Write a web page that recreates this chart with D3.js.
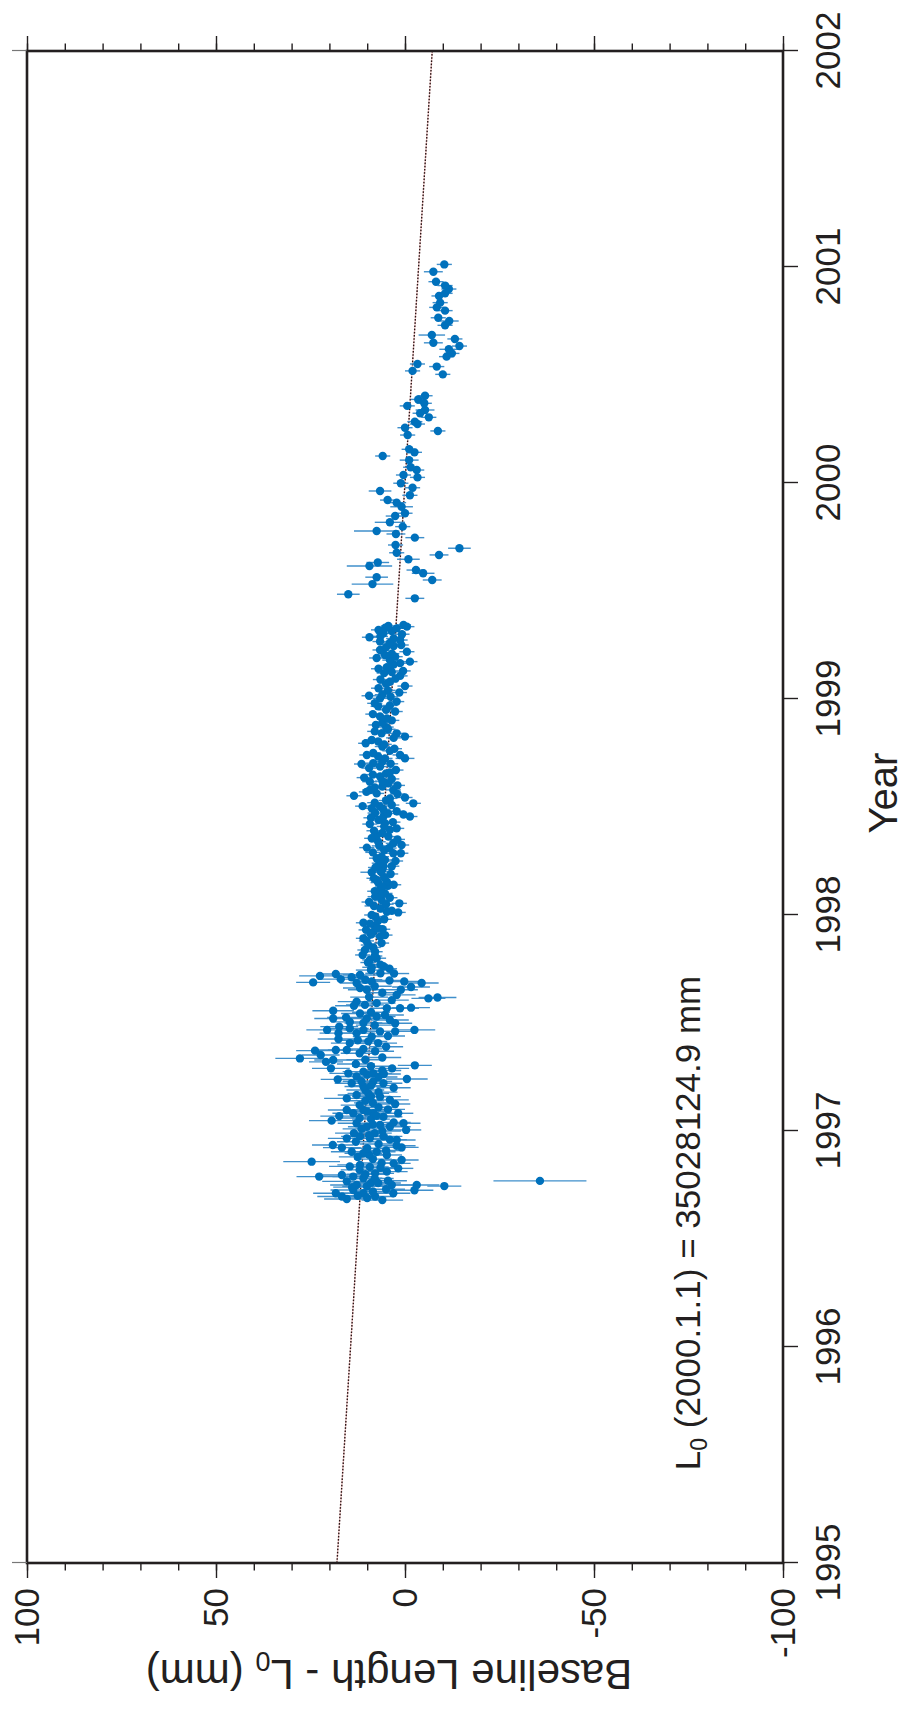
<!DOCTYPE html>
<html>
<head>
<meta charset="utf-8">
<script src="https://cdn.jsdelivr.net/npm/d3@7"></script>
<style>
  html, body { margin: 0; padding: 0; background: #ffffff; }
  svg { display: block; }
  text { font-family: "Liberation Sans", Arial, Helvetica, sans-serif; fill: #231f20; }
</style>
</head>
<body>
<script>
// Baseline length change (mm) relative to L0, per session: [epoch (yr), offset (mm), 1-sigma (mm)]
const noisyEra = [
  [1996.680, 6.0, 5.5], [1996.685, 15.4, 6.0], [1996.697, 16.7, 6.5], [1996.697, 7.9, 5.0],
  [1996.712, 18.3, 6.0], [1996.712, 11.0, 5.5], [1996.712, 3.1, 4.5], [1996.727, 13.7, 6.0],
  [1996.726, -2.5, 5.0], [1996.745, -10.4, 4.5], [1996.750, -3.1, 6.0], [1996.744, 10.1, 6.5],
  [1996.750, 12.8, 7.0], [1996.750, 3.5, 5.5], [1996.759, 7.1, 6.0], [1996.767, 15.4, 6.5],
  [1996.769, -35.7, 12.3], [1996.781, 11.0, 5.0], [1996.789, 13.7, 5.5], [1996.789, 22.7, 6.0],
  [1996.796, 16.7, 5.0], [1996.804, 7.9, 5.0], [1996.812, 4.8, 5.5], [1996.827, 1.8, 4.0],
  [1996.833, 9.3, 5.0], [1996.836, 14.6, 5.5], [1996.843, 11.9, 6.0], [1996.852, 6.2, 5.0],
  [1996.858, 24.7, 7.5], [1996.866, 0.9, 4.5], [1996.889, 4.8, 4.0], [1996.897, 11.0, 5.0],
  [1996.904, 14.1, 5.5], [1996.904, 7.5, 5.0], [1996.923, 16.7, 5.0], [1996.924, 0.9, 4.5],
  [1996.932, 2.2, 5.0], [1996.935, 19.1, 5.5], [1996.958, 2.2, 5.0], [1996.966, 15.4, 5.0],
  [1996.966, 9.3, 5.5], [1996.975, 11.9, 5.0], [1996.975, 5.7, 5.0], [1996.990, 8.0, 4.5],
  [1997.005, -0.3, 4.0], [1997.020, 10.1, 5.0], [1997.020, 4.0, 5.5], [1997.028, 6.6, 6.0],
  [1997.036, 12.8, 5.0], [1997.036, 0.4, 4.5], [1997.048, 19.4, 6.0], [1997.055, 9.0, 5.0],
  [1997.066, 5.7, 5.0], [1997.069, 17.4, 5.0], [1997.082, 13.7, 5.5], [1997.082, 8.4, 5.0],
  [1997.082, 1.8, 4.0], [1997.097, 15.4, 5.0], [1997.097, 11.0, 5.5], [1997.110, 7.0, 5.0],
  [1997.125, 2.6, 4.0], [1997.144, 4.0, 5.0], [1997.151, 15.4, 6.0], [1997.159, 6.6, 5.5],
  [1997.167, 12.8, 5.0], [1997.174, 9.7, 5.5], [1997.190, 10.5, 5.0], [1997.206, 11.0, 5.0],
  [1997.221, 14.1, 4.5], [1997.221, 5.7, 5.0], [1997.229, 8.4, 5.0], [1997.239, 17.8, 4.5],
  [1997.241, -0.5, 5.5], [1997.252, 12.8, 5.0], [1997.264, 5.6, 4.5], [1997.267, 15.0, 5.0],
  [1997.267, 8.4, 5.0], [1997.275, 11.0, 5.5], [1997.290, 19.6, 5.0], [1997.290, 3.4, 4.5],
  [1997.304, -2.6, 4.5], [1997.320, 20.9, 4.5], [1997.329, 19.0, 5.0], [1997.336, 27.8, 6.5],
  [1997.352, 22.3, 5.0], [1997.360, 12.0, 5.0], [1997.369, 7.9, 5.0], [1997.372, 23.8, 5.0],
  [1997.375, 18.3, 4.5], [1997.375, 15.4, 5.0], [1997.407, 14.6, 5.0], [1997.407, 7.1, 5.0],
  [1997.415, 9.7, 5.0], [1997.426, 17.6, 5.5], [1997.437, 8.8, 5.0], [1997.453, 17.6, 5.0],
  [1997.453, 12.8, 5.0], [1997.461, 6.6, 5.0], [1997.461, 2.6, 4.5], [1997.468, 20.6, 5.5],
  [1997.468, 11.0, 5.0], [1997.468, -2.5, 5.5], [1997.475, 14.6, 5.0], [1997.483, 17.4, 5.0],
  [1997.499, 2.6, 4.5], [1997.505, 14.6, 5.0], [1997.514, 4.0, 5.0], [1997.521, 19.0, 5.0],
  [1997.521, 10.1, 5.0], [1997.526, 15.6, 5.0], [1997.537, 5.3, 5.0], [1997.544, 11.9, 5.0],
  [1997.557, 19.0, 5.5], [1997.568, 4.8, 4.5], [1997.568, 1.3, 5.0], [1997.571, -1.6, 5.0],
  [1997.584, 10.6, 5.0], [1997.592, 7.5, 5.0], [1997.599, 12.8, 5.0], [1997.606, 3.5, 4.5],
  [1997.614, -6.2, 4.5], [1997.618, -8.6, 5.0], [1997.630, 2.2, 5.0], [1997.654, 10.1, 5.0],
  [1997.654, 1.1, 4.5], [1997.662, 11.9, 4.5], [1997.667, -1.6, 5.0], [1997.685, 12.8, 4.5],
  [1997.685, -4.4, 4.5], [1997.688, 24.3, 4.5], [1997.692, 8.8, 4.5], [1997.692, 0.2, 5.0],
  [1997.697, 4.1, 4.5], [1997.703, 17.0, 5.0], [1997.712, 14.1, 4.5], [1997.718, 22.5, 5.5],
  [1997.722, 11.9, 4.5], [1997.727, 18.3, 4.5], [1997.729, 2.9, 4.0], [1997.745, 9.0, 4.0],
  [1996.690, 10.0, 5.0], [1996.700, 12.5, 5.0], [1996.720, 8.5, 5.5], [1996.730, 5.0, 5.0],
  [1996.740, 14.0, 5.0], [1996.760, 9.0, 5.5], [1996.770, 4.5, 5.0], [1996.780, 8.0, 5.0],
  [1996.800, 10.5, 5.0], [1996.820, 12.0, 5.0], [1996.830, 6.5, 5.0], [1996.850, 3.0, 4.5],
  [1996.870, 8.5, 5.0], [1996.880, 12.5, 5.0], [1996.890, 9.5, 5.0], [1996.910, 5.0, 4.5],
  [1996.920, 10.0, 5.0], [1996.940, 7.0, 5.0], [1996.950, 13.0, 5.0], [1996.960, 4.0, 4.5],
  [1996.980, 9.5, 5.0], [1996.990, 13.5, 5.0], [1997.000, 6.0, 5.0], [1997.010, 11.5, 5.0],
  [1997.030, 8.5, 5.0], [1997.040, 3.0, 4.5], [1997.060, 12.0, 5.0], [1997.070, 7.5, 5.0],
  [1997.090, 10.0, 5.0], [1997.100, 4.5, 4.5], [1997.120, 12.0, 5.0], [1997.130, 8.5, 5.0],
  [1997.140, 10.5, 5.0], [1997.160, 9.0, 5.0], [1997.180, 7.0, 5.0], [1997.200, 3.0, 4.5],
  [1997.210, 9.0, 5.0], [1997.230, 11.5, 5.0], [1997.250, 7.0, 5.0], [1997.260, 10.0, 5.0],
  [1997.280, 6.0, 5.0], [1997.300, 9.0, 5.0], [1997.310, 13.0, 5.0], [1997.330, 10.5, 5.0],
  [1997.340, 6.0, 5.0], [1997.380, 11.0, 5.0], [1997.390, 5.0, 4.5], [1997.420, 12.5, 5.0],
  [1997.440, 4.5, 4.5], [1997.490, 8.0, 5.0], [1997.500, 11.0, 5.0], [1997.530, 7.5, 5.0],
  [1997.550, 9.0, 5.0], [1997.580, 13.5, 5.0], [1997.620, 9.5, 5.0], [1997.640, 6.0, 4.5],
  [1997.670, 8.0, 4.5], [1997.700, 10.5, 4.5], [1997.730, 6.5, 4.0]
];

const denseEra = [
  [1997.751, 4.1, 2.0], [1997.758, 8.8, 2.5], [1997.763, 5.7, 2.0], [1997.792, 9.3, 2.0],
  [1997.800, 7.5, 2.5], [1997.815, 11.2, 2.0], [1997.830, 7.9, 2.0], [1997.838, 10.6, 2.0],
  [1997.861, 9.7, 2.0], [1997.892, 11.0, 2.0], [1997.900, 6.6, 2.0], [1997.907, 5.3, 2.0],
  [1997.920, 8.5, 2.0], [1997.931, 10.3, 2.0], [1997.934, 5.9, 2.0], [1997.950, 8.0, 2.0],
  [1997.964, 11.0, 2.0], [1997.973, 7.1, 2.0], [1997.993, 7.9, 2.0], [1998.012, 1.8, 2.0],
  [1998.015, 4.8, 2.0], [1998.030, 6.5, 2.0], [1998.042, 8.2, 2.5], [1998.054, 1.5, 2.0],
  [1998.069, 6.2, 2.0], [1998.085, 7.9, 2.0], [1998.100, 5.3, 2.0], [1998.120, 6.5, 2.0],
  [1998.135, 4.5, 2.0], [1998.150, 7.1, 2.0], [1998.154, 4.8, 2.0], [1998.162, 7.5, 2.0],
  [1998.175, 5.5, 2.0], [1998.198, 8.8, 3.0], [1998.210, 6.0, 2.0], [1998.226, 5.7, 2.0],
  [1998.226, 3.5, 2.0], [1998.240, 6.8, 2.0], [1998.255, 5.3, 2.0], [1998.263, 7.5, 2.0],
  [1998.286, 3.1, 2.0], [1998.286, 1.1, 2.0], [1998.300, 5.5, 2.0], [1998.312, 10.1, 2.0],
  [1998.324, 0.9, 2.0], [1998.332, 3.1, 2.0], [1998.339, 7.1, 2.0], [1998.355, 8.8, 2.0],
  [1998.363, 4.4, 2.0], [1998.380, 6.0, 2.0], [1998.394, 4.0, 2.0], [1998.401, 2.2, 2.0],
  [1998.421, 9.3, 2.0], [1998.425, 5.3, 2.0], [1998.440, 7.0, 2.0], [1998.456, 5.7, 2.0],
  [1998.456, -1.3, 2.0], [1998.465, 0.4, 2.0], [1998.472, 7.9, 2.0], [1998.480, 2.2, 2.0],
  [1998.494, 8.8, 2.0], [1998.502, 6.6, 2.0], [1998.504, 11.2, 2.0], [1998.509, 3.5, 2.0],
  [1998.517, -2.2, 2.0], [1998.530, 5.0, 2.0], [1998.544, 0.0, 2.0], [1998.552, 13.5, 2.0],
  [1998.563, 7.5, 2.0], [1998.579, 9.3, 2.0], [1998.579, 3.1, 2.0], [1998.595, 6.0, 2.0],
  [1998.610, 4.4, 2.0], [1998.617, 9.3, 2.0], [1998.636, 10.8, 2.0], [1998.641, 6.6, 2.0],
  [1998.655, 5.0, 2.0], [1998.671, 2.4, 2.0], [1998.687, 6.6, 2.0], [1998.699, 11.5, 2.0],
  [1998.703, 8.4, 2.0], [1998.725, 5.3, 2.0], [1998.725, 0.0, 2.5], [1998.734, 7.1, 2.0],
  [1998.741, 10.1, 2.0], [1998.741, 1.3, 2.0], [1998.760, 4.0, 2.0], [1998.780, 6.0, 2.0],
  [1998.795, 10.4, 2.0], [1998.803, 7.1, 2.0], [1998.826, 0.0, 2.0], [1998.841, 6.2, 2.0],
  [1998.841, 2.2, 2.0], [1998.860, 4.5, 2.0], [1998.880, 7.7, 2.0], [1998.901, 3.5, 2.0],
  [1998.919, 6.6, 2.0], [1998.942, 2.6, 2.0], [1998.966, 7.1, 2.0], [1998.988, 2.2, 2.0],
  [1999.003, 6.6, 2.0], [1999.015, 9.5, 2.0], [1999.040, 4.5, 2.0], [1999.060, 0.0, 2.0],
  [1999.080, 4.0, 2.0], [1999.095, 2.5, 2.0], [1999.107, 1.3, 2.0], [1999.125, 3.5, 2.0],
  [1999.147, 4.8, 2.0], [1999.166, 1.3, 2.0], [1999.173, -1.3, 2.0], [1999.196, 2.6, 2.0],
  [1999.204, 5.3, 2.0], [1999.219, -0.5, 2.0], [1999.227, 6.6, 2.0], [1999.245, 3.0, 2.0],
  [1999.266, 6.6, 2.0], [1999.273, 1.3, 2.0], [1999.286, 9.4, 2.0], [1999.304, 5.7, 2.0],
  [1999.315, 3.5, 2.0], [1999.327, 2.2, 2.0], [1999.338, 4.4, 2.0], [1999.343, 0.4, 2.0],
  [1997.770, 6.5, 2.0], [1997.780, 9.8, 2.0], [1997.810, 8.0, 2.0], [1997.850, 8.4, 2.0],
  [1997.870, 6.2, 2.0], [1997.880, 10.2, 2.0], [1997.910, 9.0, 2.0], [1997.940, 7.2, 2.0],
  [1997.960, 9.3, 2.0], [1997.980, 5.5, 2.0], [1998.000, 8.8, 2.0], [1998.020, 3.5, 2.0],
  [1998.050, 5.0, 2.0], [1998.060, 9.5, 2.0], [1998.080, 4.0, 2.0], [1998.090, 6.8, 2.0],
  [1998.110, 8.0, 2.0], [1998.130, 6.0, 2.0], [1998.140, 3.0, 2.0], [1998.170, 8.2, 2.0],
  [1998.190, 3.8, 2.0], [1998.200, 6.4, 2.0], [1998.220, 7.8, 2.0], [1998.250, 2.5, 2.0],
  [1998.270, 6.2, 2.0], [1998.290, 8.5, 2.0], [1998.310, 4.2, 2.0], [1998.320, 6.8, 2.0],
  [1998.350, 2.0, 2.0], [1998.370, 7.4, 2.0], [1998.390, 8.2, 2.0], [1998.410, 5.5, 2.0],
  [1998.430, 3.2, 2.0], [1998.450, 9.0, 2.0], [1998.470, 4.5, 2.0], [1998.490, 5.8, 2.0],
  [1998.520, 8.0, 2.0], [1998.540, 4.0, 2.0], [1998.560, 2.0, 2.0], [1998.570, 10.2, 2.0],
  [1998.590, 8.0, 2.0], [1998.600, 2.0, 2.0], [1998.620, 6.0, 2.0], [1998.630, 3.5, 2.0],
  [1998.650, 8.5, 2.0], [1998.660, 4.0, 2.0], [1998.680, 9.5, 2.0], [1998.700, 3.8, 2.0],
  [1998.710, 6.0, 2.0], [1998.750, 8.4, 2.0], [1998.770, 2.8, 2.0], [1998.790, 5.5, 2.0],
  [1998.810, 8.8, 2.0], [1998.820, 3.0, 2.0], [1998.850, 8.0, 2.0], [1998.870, 5.0, 2.0],
  [1998.890, 6.0, 2.0], [1998.910, 4.8, 2.0], [1998.930, 8.5, 2.0], [1998.950, 5.0, 2.0],
  [1998.970, 4.0, 2.0], [1998.980, 8.0, 2.0], [1999.010, 3.8, 2.0], [1999.020, 6.0, 2.0],
  [1999.030, 1.5, 2.0], [1999.050, 7.0, 2.0], [1999.070, 5.0, 2.0], [1999.090, 6.5, 2.0],
  [1999.120, 5.5, 2.0], [1999.130, 0.5, 2.0], [1999.140, 7.0, 2.0], [1999.160, 3.0, 2.0],
  [1999.180, 4.0, 2.0], [1999.190, 7.5, 2.0], [1999.210, 3.5, 2.0], [1999.240, 5.0, 2.0],
  [1999.250, 1.0, 2.0], [1999.260, 4.0, 2.0], [1999.280, 3.0, 2.0], [1999.290, 6.5, 2.0],
  [1999.300, 0.8, 2.0], [1999.320, 7.0, 2.0], [1999.330, 5.2, 2.0], [1999.335, -0.5, 2.0]
];

const sparseEra = [
  [1999.466, -2.6, 2.5], [1999.485, 15.0, 3.0], [1999.532, 8.6, 5.5], [1999.551, -7.2, 2.5],
  [1999.564, 7.5, 3.0], [1999.582, -4.8, 3.0], [1999.597, -2.9, 2.5], [1999.616, 9.4, 6.0],
  [1999.632, 7.2, 3.0], [1999.647, -0.9, 3.0], [1999.667, -9.0, 2.5], [1999.677, 2.2, 2.0],
  [1999.698, -14.4, 3.0], [1999.713, 2.5, 2.0], [1999.747, -2.6, 2.5], [1999.764, 2.4, 2.5],
  [1999.778, 7.5, 6.0], [1999.798, 0.6, 2.0], [1999.818, 4.0, 4.0], [1999.847, 2.6, 2.5],
  [1999.860, 0.0, 2.0], [1999.890, 0.9, 3.0], [1999.909, 2.2, 2.5], [1999.921, 4.6, 2.0],
  [1999.943, -1.3, 2.0], [1999.963, 6.6, 3.0], [1999.978, -2.0, 2.0], [1999.999, 1.1, 2.0],
  [2000.026, -3.3, 2.0], [2000.037, 0.4, 2.0], [2000.060, -3.1, 2.0], [2000.073, -1.5, 2.0],
  [2000.106, -1.1, 2.5], [2000.125, 5.9, 2.0], [2000.142, -2.5, 2.0], [2000.156, -1.1, 2.0],
  [2000.222, -0.7, 2.0], [2000.241, -8.7, 2.0], [2000.256, 0.0, 2.0], [2000.273, -3.3, 2.0],
  [2000.284, -2.6, 2.0], [2000.304, -6.3, 2.0], [2000.323, -4.0, 2.0], [2000.338, -5.3, 2.5],
  [2000.357, -0.6, 2.0], [2000.369, -5.1, 2.0], [2000.387, -3.5, 2.0], [2000.404, -5.3, 2.0],
  [2000.503, -10.0, 2.0], [2000.519, -2.0, 2.0], [2000.539, -8.4, 2.0], [2000.551, -3.3, 2.0],
  [2000.585, -11.0, 2.0], [2000.600, -12.4, 2.0], [2000.619, -11.6, 2.5], [2000.634, -14.4, 2.0],
  [2000.649, -7.5, 2.5], [2000.667, -13.2, 2.0], [2000.685, -7.1, 3.5], [2000.730, -10.6, 2.0],
  [2000.750, -11.7, 2.5], [2000.765, -8.8, 2.0], [2000.798, -10.6, 2.0], [2000.813, -8.4, 2.0],
  [2000.835, -9.3, 2.0], [2000.866, -9.0, 2.0], [2000.878, -10.6, 2.0], [2000.898, -11.6, 2.0],
  [2000.914, -10.6, 2.0], [2000.932, -8.2, 2.0], [2000.978, -7.5, 2.5], [2001.012, -10.4, 2.0]
];

// Linear rate fit, end points (yr, mm)
const trendYears = [1995, 2002];
const trendValues = [18.0, -7.2];

// Axis ticks
const yearTicks = [1995, 1996, 1997, 1998, 1999, 2000, 2001, 2002];
const valueTicks = [-100, -50, 0, 50, 100];
const valueMinorTicks = d3.range(-100, 101, 10);

const annotationText = "(2000.1.1) = 35028124.9 mm";

// ---- layout: the plot is built landscape and turned a quarter turn counter-clockwise
const W = 1512, H = 756;            // landscape plot width (time) and height (length)
const originX = 27, originY = 1563; // screen position of the landscape top-left corner
const ink = "#231f20";
const dotColor = "#0071bc";
const barColor = "#3f8fcb";

const svg = d3.select("body").append("svg")
  .attr("width", 910).attr("height", 1722);
svg.append("rect").attr("width", 910).attr("height", 1722).attr("fill", "#fff");

const g = svg.append("g")
  .attr("transform", `translate(${originX},${originY}) rotate(-90)`);

const x = d3.scaleLinear().domain([1995, 2002]).range([0, W]);
const y = d3.scaleLinear().domain([-100, 100]).range([H, 0]);

const allSessions = noisyEra.concat(denseEra, sparseEra);

// trend line: faint red line under black dots
const trendPts = trendYears.map((t, i) => [x(t), y(trendValues[i])]);
const lineGen = d3.line();
g.append("path").attr("d", lineGen(trendPts))
  .attr("fill", "none").attr("stroke", "#f2c4c4").attr("stroke-width", 1.2);
g.append("path").attr("d", lineGen(trendPts))
  .attr("fill", "none").attr("stroke", "#2a1515").attr("stroke-width", 1.4)
  .attr("stroke-dasharray", "1.6,1.6");

// error bars
g.append("g").selectAll("line").data(allSessions).join("line")
  .attr("x1", d => x(d[0])).attr("x2", d => x(d[0]))
  .attr("y1", d => y(d[1] - d[2])).attr("y2", d => y(d[1] + d[2]))
  .attr("stroke", barColor).attr("stroke-width", 1.4);

// session dots
g.append("g").selectAll("circle").data(allSessions).join("circle")
  .attr("cx", d => x(d[0])).attr("cy", d => y(d[1]))
  .attr("r", 4.2).attr("fill", dotColor);

// frame
g.append("rect").attr("x", 0).attr("y", 0).attr("width", W).attr("height", H)
  .attr("fill", "none").attr("stroke", ink).attr("stroke-width", 2.6);

const fmt = d => String(d);
function styleAxis(sel) {
  sel.select(".domain").remove();
  sel.selectAll(".tick line").attr("stroke", ink).attr("stroke-width", 1.4);
  sel.selectAll("text").attr("fill", ink).attr("font-size", 35)
    .attr("font-family", '"Liberation Sans", Arial, Helvetica, sans-serif');
}

// time axis with labels (landscape bottom)
g.append("g").attr("transform", `translate(0,${H})`)
  .call(d3.axisBottom(x).tickValues(yearTicks).tickFormat(fmt).tickSize(15).tickPadding(17).tickSizeOuter(0))
  .call(styleAxis);

// time axis end ticks on the opposite side
g.append("g")
  .call(d3.axisTop(x).tickValues([1995, 2002]).tickFormat("").tickSize(15).tickSizeOuter(0))
  .call(styleAxis)
  .selectAll(".tick line").attr("stroke", "#777").attr("stroke-width", 1.2);

// length axis with labels
g.append("g")
  .call(d3.axisLeft(y).tickValues(valueTicks).tickFormat(fmt).tickSize(15).tickPadding(10).tickSizeOuter(0))
  .call(styleAxis);
g.append("g")
  .call(d3.axisLeft(y).tickValues(valueMinorTicks).tickFormat("").tickSize(7.5).tickSizeOuter(0))
  .call(styleAxis);

// length axis ticks on the opposite side
g.append("g").attr("transform", `translate(${W},0)`)
  .call(d3.axisRight(y).tickValues(valueTicks).tickFormat("").tickSize(15).tickSizeOuter(0))
  .call(styleAxis);
g.append("g").attr("transform", `translate(${W},0)`)
  .call(d3.axisRight(y).tickValues(valueMinorTicks).tickFormat("").tickSize(7.5).tickSizeOuter(0))
  .call(styleAxis);

// axis titles
g.append("text")
  .attr("x", W / 2 + 14).attr("y", H + 114)
  .attr("text-anchor", "middle").attr("font-size", 40)
  .text("Year");

const yTitle = g.append("text")
  .attr("transform", `translate(-97,${H / 2 - 16}) rotate(-90)`)
  .attr("text-anchor", "middle").attr("font-size", 42);
yTitle.append("tspan").text("Baseline Length - L");
yTitle.append("tspan").attr("font-size", 27).attr("dy", 8).text("0");
yTitle.append("tspan").attr("dy", -8).text(" (mm)");

// reference length note
const note = g.append("text")
  .attr("x", x(1995.43)).attr("y", y(-78))
  .attr("font-size", 35);
note.append("tspan").text("L");
note.append("tspan").attr("font-size", 23).attr("dy", 7).text("0");
note.append("tspan").attr("dy", -7).text(" " + annotationText);
</script>
</body>
</html>
